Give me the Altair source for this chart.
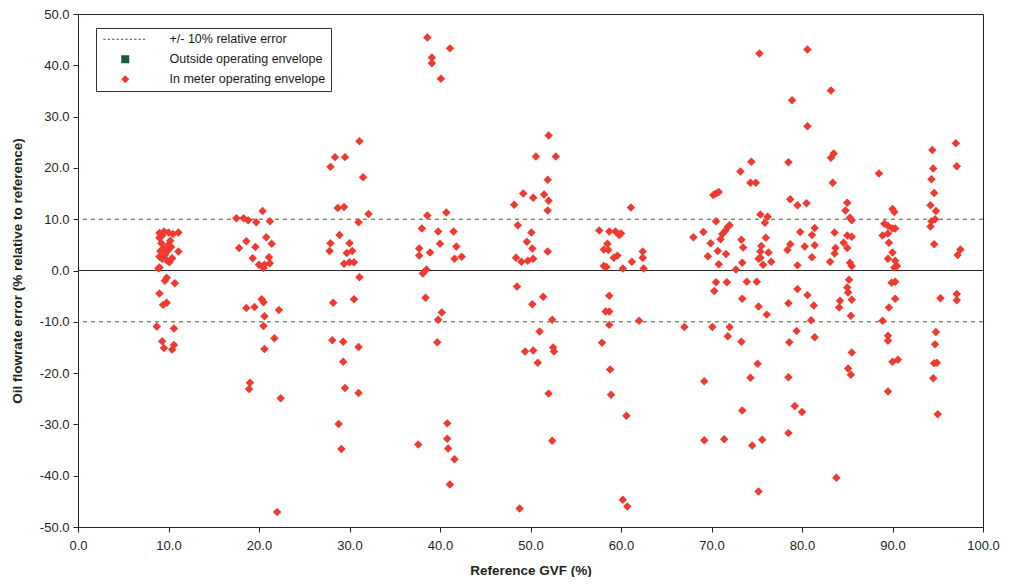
import altair as alt
import pandas as pd

FONT = "Liberation Sans"
LINE = "+/- 10% relative error"
OUT = "Outside operating envelope"
IN = "In meter operating envelope"

# ---- data (Reference GVF %, oil flowrate error %) ----
gvf_10 = [9.0, 9.5, 10.0, 10.5, 11.1, 9.0, 9.2, 9.5, 9.9, 10.3, 11.1, 9.0, 9.3, 10.1, 9.8, 9.0, 9.8, 9.6,
          10.7, 9.0, 9.8, 9.4, 8.7, 10.6, 9.3, 9.5, 10.4, 10.6, 9.3, 10.2, 9.6, 10.4, 10.0, 9.1, 8.9]
err_10 = [7.3, 7.6, 7.4, 7.1, 7.4, 6.4, 5.3, 4.3, 3.8, 4.6, 3.7, 2.7, 2.3, 1.6, 2.0, 0.6, -1.4, -2.0,
          -2.5, -4.5, -6.3, -6.7, -10.9, -11.3, -13.8, -15.1, -15.4, -14.5, 6.8, 5.8, 3.0, 2.4, 5.0, 3.8, 0.4]

gvf_20 = [20.4, 17.5, 18.3, 18.8, 19.7, 21.2, 20.8, 18.6, 21.4, 17.8, 19.6, 19.3, 21.1, 20.0, 20.6, 21.2,
          20.5, 20.3, 20.5, 18.6, 19.5, 22.2, 20.6, 20.5, 21.7, 20.6, 19.0, 18.9, 22.4, 22.0]
err_20 = [11.6, 10.2, 10.2, 9.8, 9.4, 9.6, 6.5, 5.7, 5.2, 4.4, 4.6, 2.4, 2.6, 1.1, 1.1, 1.4,
          0.5, -5.6, -6.2, -7.3, -7.1, -7.7, -8.9, -10.8, -13.2, -15.3, -21.9, -23.1, -24.9, -47.1]

gvf_30 = [31.1, 28.4, 29.5, 27.9, 31.5, 28.7, 29.4, 32.1, 31.0, 28.9, 27.9, 27.8, 30.0, 30.3, 29.7, 29.4,
          30.0, 30.5, 31.1, 28.2, 30.5, 28.1, 29.3, 31.0, 29.3, 29.5, 31.0, 28.8, 29.1]
err_30 = [25.2, 22.1, 22.1, 20.2, 18.2, 12.2, 12.4, 11.0, 9.4, 6.9, 5.3, 3.8, 5.3, 3.8, 3.4, 1.3,
          1.6, 1.6, -1.3, -6.3, -5.6, -13.6, -13.9, -14.9, -17.8, -22.9, -23.9, -29.9, -34.8]

gvf_40 = [38.6, 41.1, 39.1, 39.1, 40.1, 38.6, 40.7, 38.0, 39.8, 41.5, 40.0, 41.8, 37.7, 38.9, 37.7, 41.6,
          42.4, 38.5, 38.1, 38.4, 40.2, 39.8, 39.7, 37.6, 40.8, 40.8, 40.9, 41.6, 41.1]
err_40 = [45.4, 43.3, 41.5, 40.4, 37.4, 10.7, 11.3, 8.2, 7.6, 7.6, 5.2, 4.7, 4.3, 3.5, 2.9, 2.3,
          2.7, 0.2, -0.6, -5.3, -8.2, -9.6, -14.0, -33.9, -29.8, -32.8, -34.7, -36.8, -41.7]

gvf_50 = [52.0, 50.6, 52.8, 51.9, 49.2, 50.3, 51.5, 52.0, 51.9, 48.2, 48.6, 50.1, 49.6, 50.2, 51.9, 48.4,
          49.0, 49.7, 50.3, 48.5, 51.4, 50.2, 52.4, 51.0, 49.4, 50.3, 52.5, 52.6, 50.8, 52.0, 52.4, 48.8]
err_50 = [26.3, 22.2, 22.2, 17.7, 15.0, 14.2, 14.8, 13.6, 11.7, 12.8, 8.8, 7.4, 5.6, 4.3, 3.7, 2.5,
          1.7, 1.9, 2.3, -3.1, -5.1, -6.6, -9.6, -11.9, -15.8, -15.6, -15.0, -15.8, -18.0, -24.0, -33.2, -46.4]

gvf_60 = [61.1, 57.6, 58.7, 59.4, 60.0, 59.8, 58.5, 58.1, 58.6, 59.6, 59.2, 58.1, 58.4, 60.2, 61.2, 62.4,
          62.4, 62.5, 58.7, 58.3, 58.7, 58.7, 62.0, 57.9, 58.8, 58.9, 60.6, 60.2, 60.7]
err_60 = [12.3, 7.8, 7.6, 7.6, 7.2, 6.9, 5.2, 4.1, 4.0, 2.9, 2.5, 0.9, 0.7, 0.4, 1.7, 3.7,
          2.5, 0.4, -4.9, -8.0, -8.0, -10.6, -9.8, -14.1, -19.3, -24.2, -28.3, -44.7, -46.0]

gvf_70 = [75.3, 74.4, 73.2, 74.3, 74.9, 70.2, 70.8, 70.5, 70.5, 75.4, 68.0, 69.1, 69.9, 71.2, 71.8, 72.0,
          71.5, 71.0, 69.6, 70.7, 71.6, 70.8, 72.7, 73.4, 73.5, 73.3, 75.4, 75.2, 70.5, 71.7, 73.9, 75.0,
          70.3, 73.4, 75.2, 67.0, 70.1, 72.0, 71.8, 73.3, 75.1, 74.3, 69.2, 73.4, 69.2, 71.4, 74.5, 75.6, 75.2]
err_70 = [42.3, 21.2, 19.3, 17.1, 17.1, 14.7, 15.3, 15.0, 9.6, 10.9, 6.5, 7.5, 5.3, 7.1, 8.5, 8.8,
          7.7, 6.1, 2.8, 3.8, 3.2, 1.2, 0.2, 1.5, 4.5, 6.0, 3.7, 2.3, -2.3, -2.3, -2.2, -2.2,
          -4.0, -5.5, -7.0, -11.0, -11.0, -11.0, -12.8, -13.9, -18.2, -20.9, -21.6, -27.3, -33.1, -32.9, -34.1, -33.0, -43.1]

gvf_80 = [80.6, 83.2, 78.9, 80.6, 83.5, 83.2, 78.5, 83.4, 78.7, 79.5, 80.5, 85.0, 84.8, 76.2, 75.9, 85.3,
          85.5, 81.4, 79.8, 81.1, 76.0, 75.5, 83.6, 85.0, 85.5, 78.7, 80.3, 81.4, 78.4, 83.7, 84.6, 85.0,
          75.4, 76.3, 76.6, 75.7, 81.1, 83.1, 83.6, 85.3, 85.5, 79.5, 85.2, 85.0, 85.1, 85.5, 79.5, 80.6,
          78.5, 81.3, 84.2, 84.1, 76.1, 85.4, 81.0, 79.4, 78.6, 81.4, 85.5, 85.1, 85.4, 78.5, 79.2, 80.0,
          78.5, 83.8]
err_80 = [43.1, 35.1, 33.2, 28.1, 22.8, 22.0, 21.1, 17.1, 13.9, 12.7, 13.1, 13.2, 11.7, 10.5, 9.3, 10.3,
          9.8, 8.3, 7.5, 6.9, 6.4, 4.8, 7.4, 6.8, 6.6, 5.1, 4.7, 4.9, 4.0, 4.4, 5.4, 4.4,
          2.5, 3.5, 1.7, 1.1, 2.6, 1.7, 3.3, 1.5, 0.9, 1.0, -1.8, -3.3, -4.3, -5.7, -3.6, -4.8,
          -6.4, -6.8, -5.9, -7.2, -8.6, -8.8, -9.7, -11.8, -14.0, -13.0, -16.0, -19.1, -20.3, -20.8, -26.4, -27.6,
          -31.7, -40.4]

gvf_90 = [97.0, 94.4, 97.1, 94.5, 94.3, 88.5, 94.6, 94.2, 94.8, 90.0, 90.2, 94.3, 94.7, 94.2, 89.1, 89.5,
          90.0, 90.3, 88.9, 89.5, 89.6, 94.6, 97.5, 97.2, 90.0, 89.5, 90.3, 90.5, 90.2, 89.9, 90.3, 90.3,
          95.3, 97.1, 97.1, 89.6, 88.9, 94.8, 89.5, 89.5, 94.7, 90.0, 90.6, 94.6, 94.9, 94.5, 89.5, 95.0]
err_90 = [24.8, 23.5, 20.3, 19.9, 17.8, 18.9, 15.1, 12.7, 11.6, 12.0, 11.4, 9.6, 10.0, 8.6, 9.1, 8.7,
          8.2, 8.2, 6.8, 7.2, 5.4, 5.1, 4.1, 3.0, 3.5, 2.3, 1.9, 0.9, 0.6, -2.4, -2.2, -5.5,
          -5.4, -4.6, -5.8, -7.2, -9.8, -12.0, -12.7, -13.7, -14.4, -17.8, -17.4, -18.1, -18.0, -21.0, -23.6, -28.0]

limit_values = [10.0, -10.0]
zero_value = [0.0]
x_ticks = [0, 10, 20, 30, 40, 50, 60, 70, 80, 90, 100]
y_ticks = [-50, -40, -30, -20, -10, 0, 10, 20, 30, 40, 50]

series_domain = [LINE, OUT, IN]
series_colors = ["#3d5a2a", "#1d5a3a", "#f03a30"]


def dash_symbol():
    # dashed horizontal line drawn as small filled rectangles (legend symbol only)
    parts = []
    x = -5.5
    while x < 5.4:
        x2 = min(x + 0.6, 5.5)
        parts.append("M%.2f,-0.14H%.2fV0.14H%.2fZ" % (x, x2, x))
        x += 1.1
    return "".join(parts)


series_shapes = [dash_symbol(), "square", "diamond"]

gvf = gvf_10 + gvf_20 + gvf_30 + gvf_40 + gvf_50 + gvf_60 + gvf_70 + gvf_80 + gvf_90
err = err_10 + err_20 + err_30 + err_40 + err_50 + err_60 + err_70 + err_80 + err_90
points = pd.DataFrame({"gvf": gvf, "err": err, "series": IN})
limits = pd.DataFrame({"err": limit_values, "series": LINE})
zero_df = pd.DataFrame({"err": zero_value})

xscale = alt.Scale(domain=[0, 100], nice=False, zero=False)
yscale = alt.Scale(domain=[-50, 50], nice=False, zero=False)

legend = alt.Legend(
    title=None, orient="none", legendX=18, legendY=14,
    strokeColor="#333", fillColor="white", padding=5,
    labelFont=FONT, labelFontSize=12.5, labelColor="#1a1a1a",
    symbolSize=64, symbolOffset=18, labelOffset=38, rowPadding=7,
    symbolStrokeWidth=0,
)

color = alt.Color("series:N", scale=alt.Scale(domain=series_domain, range=series_colors), legend=legend)
shape = alt.Shape("series:N", scale=alt.Scale(domain=series_domain, range=series_shapes), legend=legend)

y_axis = alt.Axis(values=y_ticks, title="Oil flowrate error (% relative to reference)",
                  labelExpr="(datum.value < 0 ? '-' : '') + format(abs(datum.value), '.1f')",
                  grid=False, labelPadding=4, titlePadding=15, labelFlush=False)
x_axis = alt.Axis(values=x_ticks, title="Reference GVF (%)", format=".1f", grid=False,
                  labelPadding=7, titlePadding=11, labelFlush=False)

limits_layer = alt.Chart(limits).mark_rule(strokeDash=[4, 4], strokeWidth=1).encode(
    y=alt.Y("err:Q", scale=yscale, axis=y_axis), color=color)
zero_layer = alt.Chart(zero_df).mark_rule(color="#2a2a2a", strokeWidth=1.2).encode(
    y=alt.Y("err:Q", scale=yscale))
points_layer = alt.Chart(points).mark_point(filled=True, size=72, opacity=1).encode(
    x=alt.X("gvf:Q", scale=xscale, axis=x_axis),
    y=alt.Y("err:Q", scale=yscale),
    color=color, shape=shape)

chart = alt.layer(limits_layer, zero_layer, points_layer).properties(
    width=905, height=513,
    padding={"left": 2, "top": 0, "right": 0, "bottom": 0},
).configure_view(stroke="#222", strokeWidth=1).configure_axis(
    labelFont=FONT, labelFontSize=13, labelColor="#1e2618",
    titleFont=FONT, titleFontSize=13.5, titleFontWeight="bold", titleColor="#1e2618",
    domainColor="#222", tickColor="#222", tickSize=5,
)

chart.save("out.html", embed_options={"renderer": "svg", "actions": False})
